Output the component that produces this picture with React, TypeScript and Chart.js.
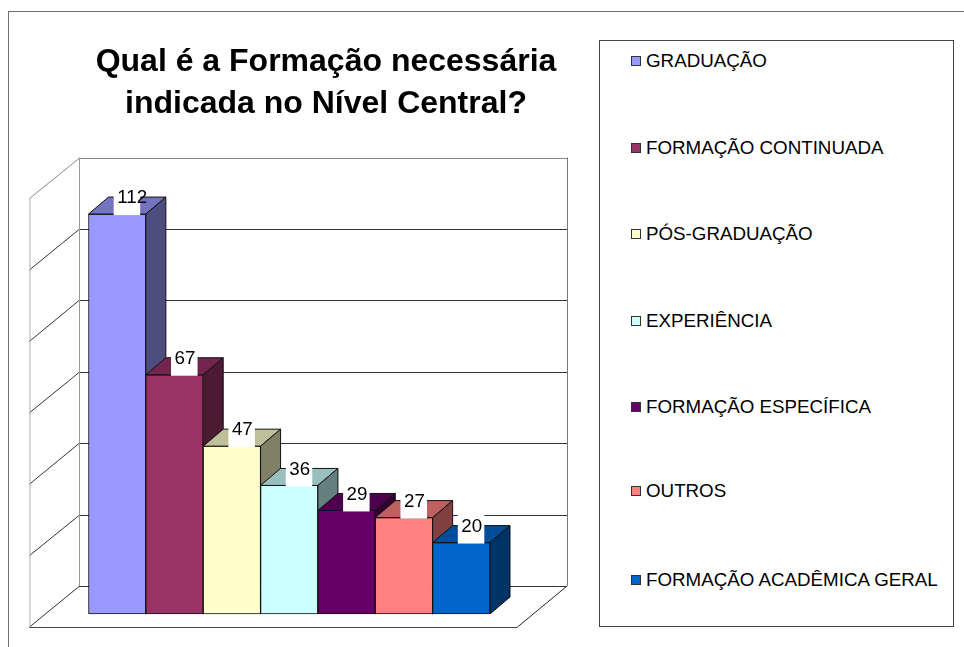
import React, { useEffect, useRef } from "react";
import { Chart, registerables } from "chart.js";

Chart.register(...registerables);

const categories = [
  "GRADUAÇÃO",
  "FORMAÇÃO CONTINUADA",
  "PÓS-GRADUAÇÃO",
  "EXPERIÊNCIA",
  "FORMAÇÃO ESPECÍFICA",
  "OUTROS",
  "FORMAÇÃO ACADÊMICA GERAL",
];
const values = [112, 67, 47, 36, 29, 27, 20];
const colors = ["#9999FF", "#993366", "#FFFFCC", "#CCFFFF", "#660066", "#FF8080", "#0066CC"];
const titleLines = ["Qual é a Formação necessária", "indicada no Nível Central?"];
const legendY = [60.5, 147.5, 233.5, 320.5, 406.5, 490.5, 579.5];

const FONT = '"Liberation Sans", Arial, sans-serif';
const DEPTH_X = 20;
const DEPTH_Y = 17;
const WALL_BACK = { dx: -9.5, dy: -28 };
const WALL_FRONT = { dx: -59, dy: 13 };
const WALL_W = 488;

function shade(hex: string, k: number) {
  const n = parseInt(hex.slice(1), 16);
  const c = [(n >> 16) & 255, (n >> 8) & 255, n & 255].map((v) => Math.round(v * k));
  return `rgb(${c[0]},${c[1]},${c[2]})`;
}

function seg(ctx: CanvasRenderingContext2D, x1: number, y1: number, x2: number, y2: number, color: string) {
  ctx.strokeStyle = color;
  ctx.lineWidth = 1;
  ctx.beginPath();
  ctx.moveTo(x1, y1);
  ctx.lineTo(x2, y2);
  ctx.stroke();
}

function face(ctx: CanvasRenderingContext2D, pts: number[][], fill: string) {
  ctx.fillStyle = fill;
  ctx.strokeStyle = "#111";
  ctx.lineWidth = 1;
  ctx.lineJoin = "round";
  ctx.beginPath();
  pts.forEach((p, i) => (i ? ctx.lineTo(p[0], p[1]) : ctx.moveTo(p[0], p[1])));
  ctx.closePath();
  ctx.fill();
  ctx.stroke();
}

const walls3d = {
  id: "walls3d",
  beforeDatasetsDraw(chart: any) {
    const { ctx, chartArea, scales } = chart;
    const y = scales.y;
    const bx = chartArea.left + WALL_BACK.dx;
    const fx = chartArea.left + WALL_FRONT.dx;
    const base = y.getPixelForValue(0);
    const top = y.getPixelForValue(y.max);
    ctx.save();
    y.ticks.forEach((t: any) => {
      const py = Math.round(y.getPixelForValue(t.value) + WALL_BACK.dy) + 0.5;
      const fy = y.getPixelForValue(t.value) + WALL_FRONT.dy;
      const isEnd = t.value === y.max;
      seg(ctx, bx, py, bx + WALL_W, py, isEnd ? "#888" : "#333");
      seg(ctx, fx, fy, bx, py, isEnd ? "#888" : "#333");
    });
    seg(ctx, bx + 0.5, top + WALL_BACK.dy, bx + 0.5, base + WALL_BACK.dy, "#999");
    seg(ctx, bx + WALL_W + 0.5, top + WALL_BACK.dy, bx + WALL_W + 0.5, base + WALL_BACK.dy, "#777");
    seg(ctx, fx + 0.5, top + WALL_FRONT.dy, fx + 0.5, base + WALL_FRONT.dy, "#aaa");
    seg(ctx, fx, base + WALL_FRONT.dy + 0.5, fx + WALL_W, base + WALL_FRONT.dy + 0.5, "#444");
    seg(ctx, fx + WALL_W, base + WALL_FRONT.dy, bx + WALL_W, base + WALL_BACK.dy, "#222");
    ctx.restore();
  },
  // The library paints datasets last-to-first; the 3D look needs first-to-last.
  beforeDatasetDraw() {
    return false;
  },
  afterDatasetsDraw(chart: any) {
    const { ctx } = chart;
    ctx.save();
    values.forEach((v, i) => {
      const bar = chart.getDatasetMeta(i).data[0];
      const hw = bar.width / 2;
      const l = bar.x - hw;
      const r = bar.x + hw;
      const t = bar.y;
      const b = bar.base;
      bar.draw(ctx);
      face(ctx, [[l, t], [r, t], [r + DEPTH_X, t - DEPTH_Y], [l + DEPTH_X, t - DEPTH_Y]], shade(colors[i], 0.75));
      face(ctx, [[r, t], [r + DEPTH_X, t - DEPTH_Y], [r + DEPTH_X, b - DEPTH_Y], [r, b]], shade(colors[i], 0.5));
    });
    values.forEach((v, i) => {
      const bar = chart.getDatasetMeta(i).data[0];
      ctx.fillStyle = "#fff";
      ctx.fillRect(bar.x - 3.5, bar.y - 30, 26.5, 31);
    });
    values.forEach((v, i) => {
      const bar = chart.getDatasetMeta(i).data[0];
      ctx.fillStyle = "#000";
      ctx.font = `18.75px ${FONT}`;
      ctx.textAlign = "left";
      ctx.textBaseline = "middle";
      ctx.fillText(String(v), bar.x, bar.y - 16);
    });
    ctx.restore();
  },
};

export default function App() {
  const ref = useRef<HTMLCanvasElement>(null);

  useEffect(() => {
    const chart = new Chart(ref.current!, {
      type: "bar",
      plugins: [walls3d],
      data: {
        labels: [""],
        datasets: categories.map((name, i) => ({
          label: name,
          data: [values[i]],
          backgroundColor: colors[i],
          borderColor: "#111",
          borderWidth: 1,
          borderSkipped: false,
          barPercentage: 1,
          categoryPercentage: 1,
        })),
      },
      options: {
        responsive: false,
        animation: false,
        layout: { padding: { top: 185.5, left: 88.5, right: 474, bottom: 33 } },
        plugins: { legend: { display: false }, title: { display: false }, tooltip: { enabled: false } },
        scales: {
          x: { display: false },
          y: { display: false, min: 0, max: 120, ticks: { stepSize: 20 } },
        },
      },
    } as any);
    return () => chart.destroy();
  }, []);

  return (
    <div style={{ position: "absolute", left: 0, top: 0, width: 964, height: 647, overflow: "hidden", background: "#fff", fontFamily: FONT, color: "#000" }}>
      <div style={{ position: "absolute", left: 8, top: 11, width: 970, height: 660, border: "1.5px solid #707070", boxSizing: "border-box" }} />
      <canvas ref={ref} width={964} height={647} style={{ position: "absolute", left: 0, top: 0, display: "block" }} />
      <div style={{ position: "absolute", left: 26, top: 39, width: 600, textAlign: "center", fontWeight: 700, fontSize: 32, lineHeight: "42px" }}>
        {titleLines.map((t) => (
          <div key={t}>{t}</div>
        ))}
      </div>
      <div style={{ position: "absolute", left: 598.5, top: 40, width: 355, height: 587, border: "1px solid #444", boxSizing: "border-box", background: "#fff" }} />
      {categories.map((name, i) => (
        <React.Fragment key={name}>
          <div style={{ position: "absolute", left: 631, top: legendY[i] - 5, width: 10, height: 10, background: colors[i], border: "1px solid #333", boxSizing: "border-box" }} />
          <div style={{ position: "absolute", left: 646, top: legendY[i] - 12, fontSize: 18.75, lineHeight: "24px", whiteSpace: "nowrap" }}>{name}</div>
        </React.Fragment>
      ))}
    </div>
  );
}
